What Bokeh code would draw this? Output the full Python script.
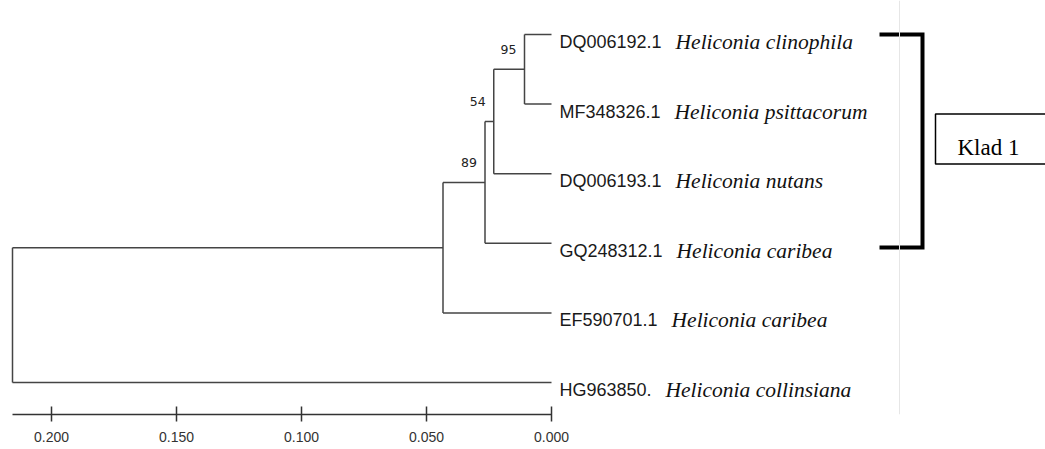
from bokeh.plotting import figure
from bokeh.models import Range1d, LinearAxis, FixedTicker, NumeralTickFormatter, ColumnDataSource, Span
from bokeh.core.properties import value
from bokeh.embed import file_html
from bokeh.resources import INLINE

# ---------------- data ----------------
accessions = ["DQ006192.1", "MF348326.1", "DQ006193.1", "GQ248312.1", "EF590701.1", "HG963850."]
species = ["Heliconia clinophila", "Heliconia psittacorum", "Heliconia nutans",
           "Heliconia caribea", "Heliconia caribea", "Heliconia collinsiana"]

node_names = ["n95", "n54", "n89", "nA", "root"]
node_heights = [0.0108, 0.0231, 0.0266, 0.0434, 0.2156]   # distance from tips
node_children = [["DQ006192.1", "MF348326.1"],
                 ["n95", "DQ006193.1"],
                 ["n54", "GQ248312.1"],
                 ["n89", "EF590701.1"],
                 ["nA", "HG963850."]]
bootstrap = ["95", "54", "89", "", ""]

scale_ticks = [0.0, 0.05, 0.10, 0.15, 0.20]
clade_members = ["DQ006192.1", "MF348326.1", "DQ006193.1", "GQ248312.1"]
clade_label = "Klad 1"

# ---------------- tree layout ----------------
pos = {a: (0.0, float(i)) for i, a in enumerate(accessions)}
for name, h, ch in zip(node_names, node_heights, node_children):
    ys = [pos[c][1] for c in ch]
    pos[name] = (h, sum(ys) / len(ys))

vx0, vx1, vy0, vy1 = [], [], [], []
hx0, hx1, hy = [], [], []
for name, h, ch in zip(node_names, node_heights, node_children):
    ys = [pos[c][1] for c in ch]
    vx0.append(h); vx1.append(h); vy0.append(min(ys)); vy1.append(max(ys))
    for c in ch:
        hx0.append(h); hx1.append(pos[c][0]); hy.append(pos[c][1])

p = figure(width=1045, height=449,
           x_range=Range1d(0.2204, -0.1976), y_range=Range1d(5.4598, -0.4885),
           output_backend="svg", toolbar_location=None,
           x_axis_location=None, y_axis_location=None,
           min_border_left=0, min_border_right=0, min_border_top=0, min_border_bottom=35)
p.xgrid.visible = False
p.ygrid.visible = False
p.outline_line_color = None
p.background_fill_color = "white"
p.border_fill_color = "white"

# page-edge light line
p.add_layout(Span(location=-0.1392, dimension="height", line_color="#e6e6e6", line_width=1))

line_col = "#444444"
p.segment(x0=vx0, y0=vy0, x1=vx1, y1=vy1, line_color=line_col, line_width=1.5)
p.segment(x0=hx0, y0=hy, x1=hx1, y1=hy, line_color=line_col, line_width=1.5)

# tip labels
acc_w = {"D": .722, "Q": .778, "M": .833, "F": .611, "G": .778, "E": .667, "H": .722, ".": .278}
def width18(s):
    return sum(acc_w.get(ch, .556) for ch in s) * 18

tips = ColumnDataSource(dict(
    x=[pos[a][0] for a in accessions],
    y=[pos[a][1] for a in accessions],
    acc=accessions, sp=species,
    sp_off=[9 + width18(a) + 13 for a in accessions],
))
p.text(x="x", y="y", text="acc", source=tips, x_offset=8, y_offset=7.5,
       text_font=value("Liberation Sans"), text_font_size="18px", text_color="#1a1a1a",
       text_baseline="alphabetic", text_align="left")
p.text(x="x", y="y", text="sp", source=tips, x_offset="sp_off", y_offset=7.5,
       text_font=value("Liberation Serif"), text_font_style="italic", text_font_size="21.5px",
       text_color="#111111", text_baseline="alphabetic", text_align="left")

# bootstrap values
bs = ColumnDataSource(dict(
    x=[pos[n][0] for n, b in zip(node_names, bootstrap) if b],
    y=[pos[n][1] for n, b in zip(node_names, bootstrap) if b],
    t=[b for b in bootstrap if b],
))
p.text(x="x", y="y", text="t", source=bs, x_offset=-8, y_offset=-20,
       text_font=value("DejaVu Sans"), text_font_size="12.5px", text_color="#222222",
       text_align="right", text_baseline="middle")

# clade bracket and label box
cy = [pos[a][1] for a in clade_members]
ytop, ybot = min(cy), max(cy) + 0.06
ymid = (min(cy) + max(cy)) / 2
bx0, bx1 = -0.1312, -0.1484
p.line(x=[bx0, bx1, bx1, bx0], y=[ytop, ytop, ybot, ybot], line_color="black",
       line_width=4, line_join="miter")
p.quad(left=[-0.1536], right=[-0.26], top=[ymid - 0.359], bottom=[ymid + 0.359],
       fill_color="white", line_color="black", line_width=1.5)
p.text(x=[-0.1536], y=[ymid], text=[clade_label], x_offset=22, y_offset=8.6,
       text_font=value("Liberation Serif"), text_font_size="23px", text_color="black",
       text_baseline="alphabetic", text_align="left")

# scale bar axis
ax = LinearAxis(ticker=FixedTicker(ticks=scale_ticks),
                formatter=NumeralTickFormatter(format="0.000"),
                bounds=(0, node_heights[-1]))
ax.major_tick_in = 8
ax.major_tick_out = 7
ax.minor_tick_in = 0
ax.minor_tick_out = 0
ax.axis_line_width = 1.5
ax.axis_line_color = "#333333"
ax.major_tick_line_color = "#333333"
ax.major_tick_line_width = 1.5
ax.major_label_text_font = "Liberation Sans"
ax.major_label_text_font_size = "14px"
ax.major_label_text_color = "#333333"
ax.major_label_standoff = 10
p.add_layout(ax, "below")

open("out.html", "w").write(file_html(p, INLINE))
